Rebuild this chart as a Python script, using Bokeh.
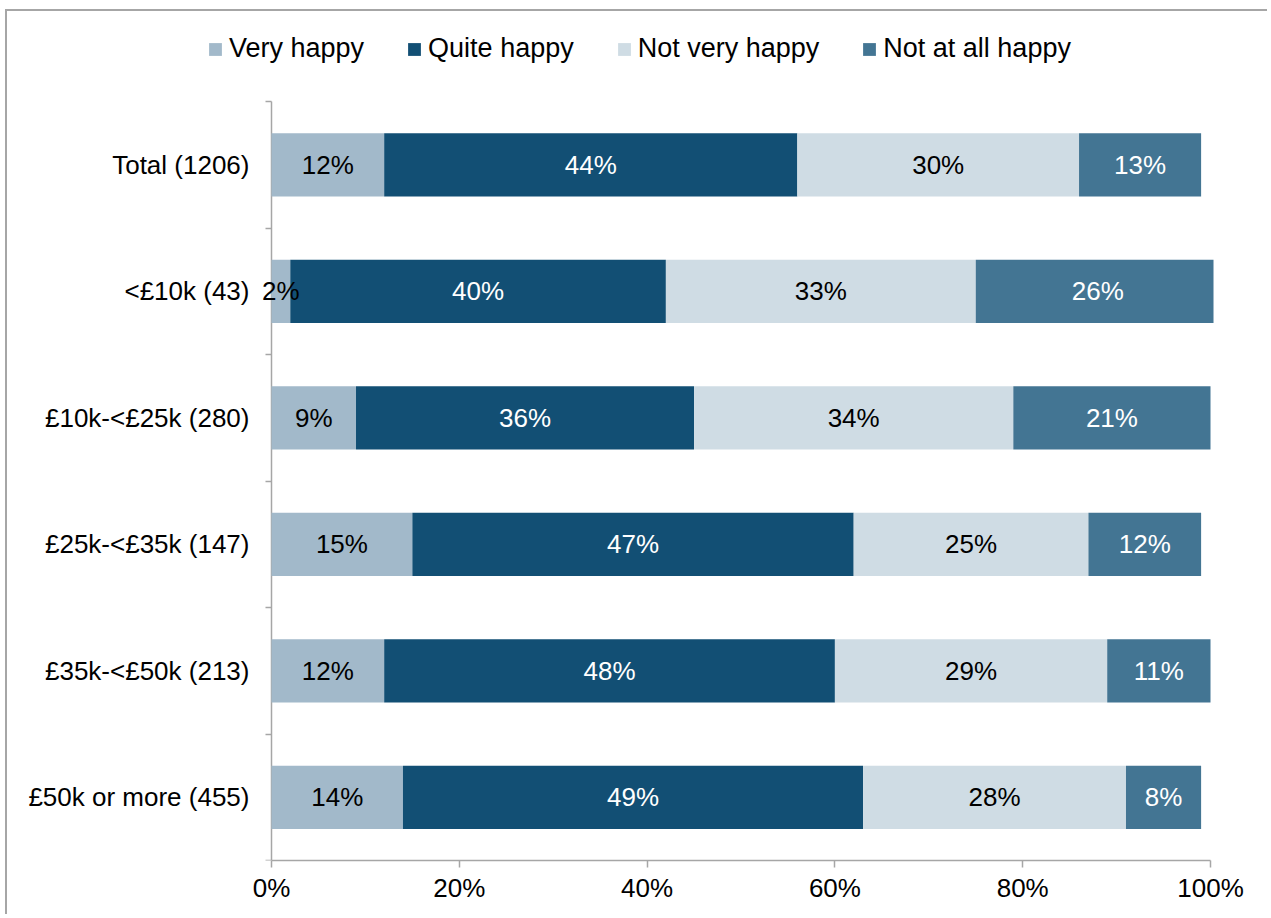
from bokeh.plotting import figure
from bokeh.models import (Range1d, FixedTicker, PrintfTickFormatter, Legend, LegendItem,
                          ColumnDataSource)
from bokeh.core.properties import value
from bokeh.embed import file_html
from bokeh.resources import INLINE

categories = ["Total (1206)", "<£10k (43)", "£10k-<£25k (280)", "£25k-<£35k (147)",
              "£35k-<£50k (213)", "£50k or more (455)"]
series = ["Very happy", "Quite happy", "Not very happy", "Not at all happy"]
very_happy = [12, 2, 9, 15, 12, 14]
quite_happy = [44, 40, 36, 47, 48, 49]
not_very_happy = [30, 33, 34, 25, 29, 28]
not_at_all_happy = [13, 26, 21, 12, 11, 8]
colors = ["#A2B9CA", "#124F74", "#CFDCE4", "#437593"]
text_colors = ["#000000", "#FFFFFF", "#000000", "#FFFFFF"]
x_ticks = [0, 20, 40, 60, 80, 100]

FONT = "Liberation Sans"
values = [very_happy, quite_happy, not_very_happy, not_at_all_happy]
n = len(categories)
ypos = [n - i - 0.5 for i in range(n)]

# layout (pixels)
W, H = 1262, 905
zero_px = 264           # where 0% sits inside the frame
data_w = 939            # 0% .. 100%
extra_px = 3            # small room right of 100% for bars summing above 100
frame_w = zero_px + data_w + extra_px
frame_h = 849
data_h = 759            # categories area
x_start = -zero_px / data_w * 100
x_end = 100 + extra_px / data_w * 100
y_end = n * frame_h / data_h

p = figure(width=W, height=H, output_backend="svg", toolbar_location=None,
           x_range=Range1d(x_start, x_end), y_range=Range1d(0, y_end),
           min_border=0, min_border_left=0, min_border_top=0,
           min_border_right=W - frame_w, min_border_bottom=H - frame_h)
p.outline_line_color = None
p.grid.visible = False
p.background_fill_color = "white"
p.border_fill_color = "white"

left = [0.0] * n
items = []
sources = []
for s, vals, col in zip(series, values, colors):
    right = [l + v for l, v in zip(left, vals)]
    mid = [(l + r) / 2 for l, r in zip(left, right)]
    src = ColumnDataSource(dict(y=ypos, left=left, right=right, mid=mid,
                                lab=[f"{v}%" for v in vals]))
    sources.append(src)
    r = p.hbar(y="y", left="left", right="right", height=0.5, source=src,
               fill_color=col, line_color=None, level="overlay")
    items.append(LegendItem(label=s, renderers=[r]))
    left = right

for src, tcol in zip(sources, text_colors):
    p.text(x="mid", y="y", text="lab", source=src, text_align="center",
           text_baseline="middle", text_color=tcol, text_font=value(FONT),
           text_font_size="26px", level="overlay")

legend = Legend(items=items, orientation="horizontal", location=(200, 796),
                border_line_color=None, background_fill_alpha=0, padding=0, margin=0,
                glyph_width=16, glyph_height=16, label_standoff=6, spacing=42,
                label_text_font=FONT, label_text_font_size="27px", label_text_color="#000000")
p.add_layout(legend, "center")

AX = "#A6A6A6"
xa = p.xaxis[0]
xa.ticker = FixedTicker(ticks=x_ticks)
xa.bounds = (0, 100)
xa.formatter = PrintfTickFormatter(format="%d%%")
xa.axis_line_color = AX
xa.axis_line_width = 1.5
xa.major_tick_line_color = AX
xa.major_tick_line_width = 1.5
xa.major_tick_out = 7
xa.major_tick_in = 0
xa.minor_tick_line_color = None
xa.major_label_text_font = FONT
xa.major_label_text_font_size = "26px"
xa.major_label_text_color = "#000000"
xa.major_label_standoff = 5

ya = p.yaxis[0]
ya.fixed_location = 0
ya.bounds = (0, n)
ya.ticker = FixedTicker(ticks=ypos, minor_ticks=[float(i) for i in range(n + 1)])
ya.major_label_overrides = {y: c for y, c in zip(ypos, categories)}
ya.axis_line_color = AX
ya.axis_line_width = 1.5
ya.major_tick_line_color = None
ya.major_tick_out = 0
ya.major_tick_in = 0
ya.minor_tick_line_color = AX
ya.minor_tick_line_width = 1.5
ya.minor_tick_out = 6
ya.minor_tick_in = 0
ya.major_label_text_font = FONT
ya.major_label_text_font_size = "26px"
ya.major_label_text_color = "#000000"
ya.major_label_standoff = 16

p.styles = {"margin-left": "5px", "margin-top": "9px",
            "border-left": "2px solid #A6A6A6", "border-top": "2px solid #A6A6A6"}

open("out.html", "w").write(file_html(p, INLINE))
